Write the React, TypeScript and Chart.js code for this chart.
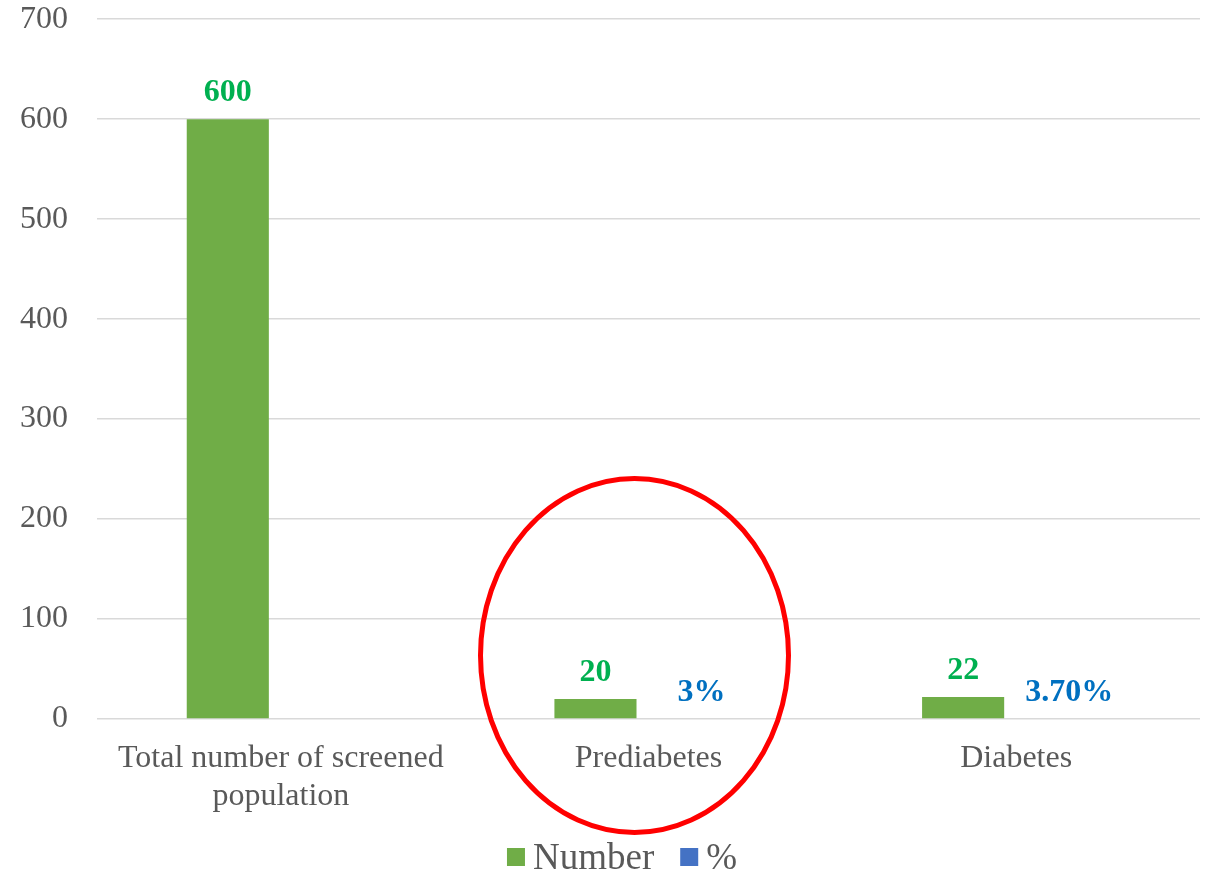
import React, { useEffect, useRef } from "react";
import { Chart, registerables } from "chart.js";

Chart.register(...registerables);

const categories: (string | string[])[] = [
  ["Total number of screened", "population"],
  "Prediabetes",
  "Diabetes",
];
const numberValues = [600, 20, 22];
const percentValues: (number | null)[] = [null, 0.03, 0.037];
const numberLabels = ["600", "20", "22"];
const percentLabels = ["", "3%", "3.70%"];
const seriesNames = ["Number", "%"];
const yMin = 0;
const yMax = 700;
const yStep = 100;

const GREEN = "#70AD47";
const BLUE = "#4472C4";
const GREEN_LABEL = "#00B050";
const BLUE_LABEL = "#0070C0";
const TEXT = "#595959";
const FONT = "'Liberation Serif', 'Times New Roman', serif";

// bars thinner than one pixel are not painted (as in the source chart)
const subPixelAware = (color: string) => (ctx: any) => {
  const v = ctx.raw;
  const chart = ctx.chart;
  const ys = chart.scales && chart.scales.y;
  if (v == null || !ys) return color;
  const h = Math.abs(ys.getPixelForValue(0) - ys.getPixelForValue(v));
  return h < 1 ? "rgba(0,0,0,0)" : color;
};

const dataLabelPlugin = {
  id: "dataLabels",
  afterDatasetsDraw(chart: any) {
    const ctx = chart.ctx;
    const labelSets = [numberLabels, percentLabels];
    const colors = [GREEN_LABEL, BLUE_LABEL];
    ctx.save();
    ctx.font = `bold 32px ${FONT}`;
    ctx.textAlign = "center";
    ctx.textBaseline = "alphabetic";
    chart.data.datasets.forEach((_ds: any, di: number) => {
      const meta = chart.getDatasetMeta(di);
      meta.data.forEach((el: any, i: number) => {
        const txt = labelSets[di][i];
        if (!txt) return;
        ctx.fillStyle = colors[di];
        ctx.fillText(txt, el.x, el.y - 18);
      });
    });
    ctx.restore();
  },
};

const ellipsePlugin = {
  id: "highlightEllipse",
  afterDraw(chart: any) {
    const ctx = chart.ctx;
    const xs = chart.scales.x;
    const ys = chart.scales.y;
    const cx = xs.getPixelForValue(1) - 14;
    const cy = ys.getPixelForValue(63.5);
    ctx.save();
    ctx.strokeStyle = "#FF0000";
    ctx.lineWidth = 5;
    ctx.beginPath();
    ctx.ellipse(cx, cy, 154, 177, 0, 0, Math.PI * 2);
    ctx.stroke();
    ctx.restore();
  },
};

const legendPlugin = {
  id: "customLegend",
  afterDraw(chart: any) {
    const ctx = chart.ctx;
    const colors = [GREEN, BLUE];
    ctx.save();
    ctx.font = `37px ${FONT}`;
    ctx.textBaseline = "middle";
    ctx.textAlign = "left";
    const box = 18;
    const gap = 8;
    const spacing = 26;
    const widths = seriesNames.map((n) => ctx.measureText(n).width);
    let total = 0;
    widths.forEach((w, i) => {
      total += box + gap + w + (i < widths.length - 1 ? spacing : 0);
    });
    let x = chart.width / 2 + 15 - total / 2;
    const cy = chart.height - 17;
    seriesNames.forEach((n, i) => {
      ctx.fillStyle = colors[i];
      ctx.fillRect(x, cy - box / 2 - 1, box, box);
      x += box + gap;
      ctx.fillStyle = TEXT;
      ctx.fillText(n, x, cy + 1);
      x += widths[i] + spacing;
    });
    ctx.restore();
  },
};

export default function App() {
  const canvasRef = useRef<HTMLCanvasElement | null>(null);

  useEffect(() => {
    document.body.style.margin = "0";
    const canvas = canvasRef.current;
    if (!canvas) return;
    const chart = new Chart(canvas, {
      type: "bar",
      data: {
        labels: categories as any,
        datasets: [
          {
            label: seriesNames[0],
            data: numberValues,
            backgroundColor: GREEN,
            categoryPercentage: 0.577,
            barPercentage: 0.774,
            inflateAmount: 0,
          } as any,
          {
            label: seriesNames[1],
            data: percentValues as any,
            backgroundColor: subPixelAware(BLUE),
            categoryPercentage: 0.577,
            barPercentage: 0.774,
            inflateAmount: 0,
          } as any,
        ],
      },
      options: {
        animation: false,
        responsive: true,
        maintainAspectRatio: false,
        layout: { padding: { top: 0, right: 14, bottom: 0, left: 0 } },
        plugins: {
          legend: { display: false },
          tooltip: { enabled: false },
        },
        scales: {
          x: {
            grid: { display: false, drawTicks: false },
            border: { display: false },
            ticks: {
              color: TEXT,
              font: { family: FONT, size: 32 },
              padding: 20,
              maxRotation: 0,
              autoSkip: false,
            },
            afterFit(scale: any) {
              scale.height = 156;
            },
          },
          y: {
            min: yMin,
            max: yMax,
            grid: {
              color: "#D9D9D9",
              lineWidth: 1.5,
              drawTicks: true,
              tickLength: 29,
              tickColor: "rgba(0,0,0,0)",
            },
            border: { display: false },
            ticks: {
              stepSize: yStep,
              color: TEXT,
              font: { family: FONT, size: 32 },
              padding: 0,
            },
            afterFit(scale: any) {
              scale.width = 97;
            },
          },
        },
      },
      plugins: [dataLabelPlugin, ellipsePlugin, legendPlugin],
    });
    return () => chart.destroy();
  }, []);

  return (
    <div style={{ width: 1214, height: 875, position: "relative", background: "#fff" }}>
      <canvas ref={canvasRef} />
    </div>
  );
}
